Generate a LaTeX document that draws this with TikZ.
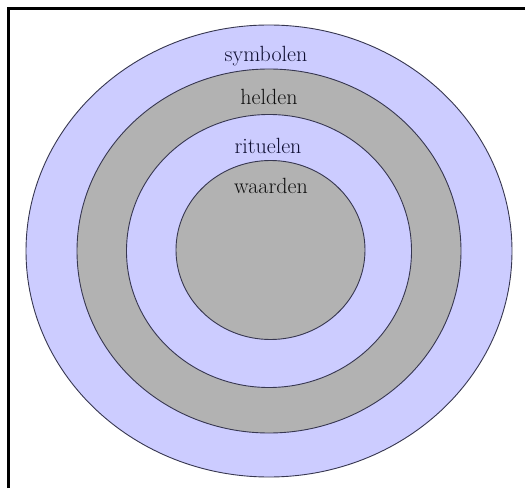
\documentclass[tikz,border=0pt]{standalone}
\usepackage{xcolor}
\definecolor{lav}{RGB}{204,204,255}
\definecolor{grayfill}{RGB}{178,178,178}
\definecolor{ringline}{RGB}{55,55,80}
\definecolor{navytext}{RGB}{15,15,50}
\definecolor{darktext}{RGB}{15,15,15}
\tikzset{
  ring/.style={draw=ringline, line width=0.9pt},
  lbl/.style={font=\fontsize{22}{26}\selectfont, inner sep=0pt},
}
\begin{document}
\begin{tikzpicture}[x=1pt,y=1pt]
\useasboundingbox (0,0) rectangle (525,488);
\fill[white] (0,0) rectangle (525,488);
\coordinate (c) at (269,237);
\draw[ring, fill=lav] (c) ellipse [x radius=243, y radius=226];
\draw[ring, fill=grayfill] (c) ellipse [x radius=192, y radius=182];
\draw[ring, fill=lav] (c) ellipse [x radius=142.5, y radius=136.5];
\draw[ring, fill=grayfill] (270.5,238) ellipse [x radius=94.5, y radius=89.5];
\node[lbl, text=navytext] (symbolen) at (266,432) {symbolen};
\node[lbl, text=darktext] (helden) at (269,391) {helden};
\node[lbl, text=navytext] (rituelen) at (268,342) {rituelen};
\node[lbl, text=darktext] (waarden) at (271,302) {waarden};
\coordinate (fb) at (8.5,0);
\coordinate (ft) at (8.5,479.5);
\coordinate (fr) at (525,479.5);
\draw[line width=2.5pt] (fb) -- (ft) -- (fr);
\end{tikzpicture}
\end{document}
